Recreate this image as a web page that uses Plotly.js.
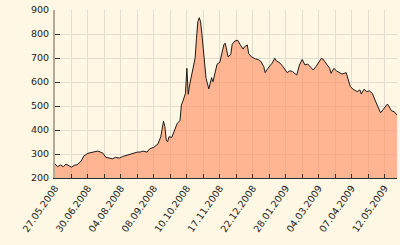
<!DOCTYPE html>
<html>
<head>
<meta charset="utf-8">
<script src="https://cdn.plot.ly/plotly-3.0.1.min.js"></script>
<style>html,body{margin:0;padding:0;background:#fef7e3;}#chart{width:400px;height:245px;}</style>
</head>
<body>
<div id="chart"></div>
<script>
// trading-day index since 27.05.2008
var dayIndex = [0,2,4,6,8,10,12,14,16,19,21,24,26,29,31,33,35,37,40,42,44,47,49,
  52,55,57,60,62,64,67,69,72,74,75,77,78,79,80,81,82,83,85,86,88,89,91,
  92,93,95,96,97,98,99,100,102,103,104,105,106,107,108,109,110,112,113,114,115,117,118,
  120,121,123,124,125,126,128,129,131,133,135,137,138,140,
  141,143,146,148,150,152,153,155,158,160,161,164,166,169,171,173,176,178,180,182,184,186,188,190,192,194,
  195,198,200,201,203,205,207,209,212,214,215,217,220,222,223,225,227,229,231,233,235,237,239,242,243,245,247,249];
var value = [258,247,255,247,258,250,245,253,255,270,292,303,305,311,312,308,303,286,283,280,286,283,289,
  295,299,303,308,308,312,308,322,328,336,342,372,414,436,414,358,351,372,369,386,414,428,439,
  504,518,553,657,549,587,615,636,699,782,851,868,851,796,726,657,615,571,601,618,601,657,674,
  682,712,757,761,726,705,715,757,771,774,754,737,747,754,
  719,705,696,694,685,664,639,657,678,699,689,678,664,639,647,643,629,671,694,671,675,664,650,664,681,699,
  696,671,657,636,657,646,639,633,639,601,581,570,560,567,550,570,560,563,553,525,500,472,486,508,500,480,476,462];
var tickDates = ["27.05.2008","30.06.2008","04.08.2008","08.09.2008","10.10.2008","17.11.2008",
  "22.12.2008","28.01.2009","04.03.2009","07.04.2009","12.05.2009"];
var yTicks = [200,300,400,500,600,700,800,900];

var tickvals = [], ticktext = [];
for (var i = 0; i < tickDates.length; i++) {
  tickvals.push(i * 24); ticktext.push(tickDates[i]);
  if (i < tickDates.length - 1) { tickvals.push(i * 24 + 12); ticktext.push(""); }
}

var trace = {
  x: dayIndex, y: value, type: "scatter", mode: "lines",
  fill: "tozeroy", fillcolor: "rgba(255,140,95,0.62)",
  line: {color: "#1a1a1a", width: 1},
  hoverinfo: "skip"
};

var layout = {
  width: 400, height: 245,
  margin: {l: 55, r: 3, t: 10, b: 67, pad: 0},
  paper_bgcolor: "#fef7e3", plot_bgcolor: "#fef7e3",
  font: {family: "DejaVu Sans, Verdana, sans-serif", size: 9.5, color: "#222"},
  showlegend: false,
  xaxis: {
    range: [0, 249], tickmode: "array", tickvals: tickvals, ticktext: ticktext,
    tickangle: -55, ticks: "inside", ticklen: 4, tickcolor: "#333",
    showgrid: true, gridcolor: "#e2ddd0", gridwidth: 1,
    showline: true, linecolor: "#333", linewidth: 1,
    zeroline: false, fixedrange: true
  },
  yaxis: {
    range: [200, 900], tickmode: "array", tickvals: yTicks,
    ticks: "inside", ticklen: 5, tickcolor: "#333",
    showgrid: true, gridcolor: "#e2ddd0", gridwidth: 1,
    showline: true, linecolor: "#b3ab98", linewidth: 2,
    zeroline: false, fixedrange: true, ticklabelstandoff: 2
  }
};

Plotly.newPlot("chart", [trace], layout, {displayModeBar: false, staticPlot: true});
</script>
</body>
</html>
